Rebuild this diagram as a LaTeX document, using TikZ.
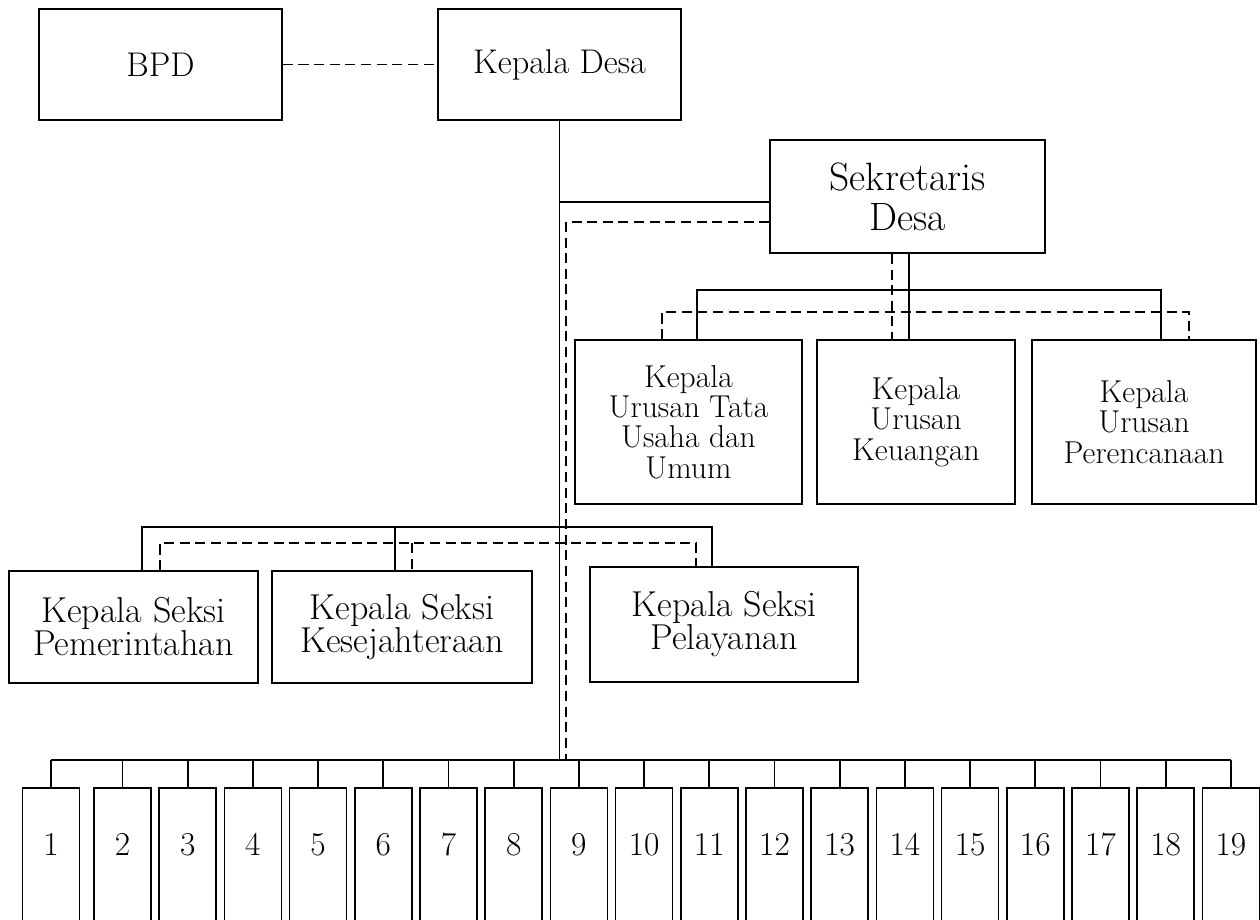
\documentclass[tikz,border=0pt]{standalone}
\usepackage{tikz}
\usetikzlibrary{calc}

\begin{document}
\begin{tikzpicture}[x=0.02cm,y=-0.02cm,line width=1pt,
        box/.style={draw,align=center,inner sep=0pt},
        topbox/.style={box,minimum width=4.86cm,minimum height=2.22cm,font=\fontsize{19.5}{22}\selectfont},
        kaurbox/.style={box,minimum height=3.28cm,font=\fontsize{18}{17.3}\selectfont},
        kasibox/.style={box,font=\fontsize{20.5}{18.8}\selectfont},
        numbox/.style={box,minimum width=1.14cm,text height=38.5pt,text depth=48pt,font=\fontsize{19}{20}\selectfont},
        dashline/.style={dash pattern=on 5.7pt off 3.2pt}]
      \useasboundingbox (0,0) rectangle (1260,919);
      \clip (0,0) rectangle (1260,919);

      % top row
      \node[topbox] (bpd) at (160.5,64.5) {BPD};
      \node[topbox] (kades) at (559.5,64.5) {Kepala Desa};
      \node[box,minimum width=5.5cm,minimum height=2.26cm,
        font=\fontsize{22.5}{22.7}\selectfont] (sekdes) at (907.5,196.5) {Sekretaris\\Desa};

      % kepala urusan
      \node[kaurbox,minimum width=4.54cm] (kaur1) at (688.5,422) {Kepala\\Urusan Tata\\Usaha dan\\Umum};
      \node[kaurbox,minimum width=3.96cm] (kaur2) at (916,422) {Kepala\\Urusan\\Keuangan};
      \node[kaurbox,minimum width=4.48cm] (kaur3) at (1144,422) {Kepala\\Urusan\\Perencanaan};

      % kepala seksi
      \node[kasibox,minimum width=4.98cm,minimum height=2.24cm] (kasi1) at (133.5,627) {Kepala Seksi\\Pemerintahan};
      \node[kasibox,minimum width=5.2cm,minimum height=2.24cm] (kasi2) at (402,627) {Kepala Seksi\\Kesejahteraan};
      \node[kasibox,minimum width=5.36cm,minimum height=2.3cm] (kasi3) at (724,624.5) {Kepala Seksi\\Pelayanan};

      % helper points on the buses
      \coordinate (nbus) at (559.5,760);
      \coordinate (dtrunk) at (566,760);
      \coordinate (sk1) at ($(sekdes.north west)!0.55!(sekdes.south west)$);
      \coordinate (sk2) at ($(sekdes.north west)!0.72!(sekdes.south west)$);
      \coordinate (ub1) at (697,290);
      \coordinate (ub2) at (909,290);
      \coordinate (ub3) at (1161,290);
      \coordinate (ud1) at (662,312);
      \coordinate (ud2) at (892,312);
      \coordinate (ud3) at (1189,312);
      \coordinate (lb1) at (142,527);
      \coordinate (lb2) at (395,527);
      \coordinate (lb3) at (712,527);
      \coordinate (ld1) at (160,543);
      \coordinate (ld2) at (412,543);
      \coordinate (ld3) at (696,543);

      % BPD -- Kepala Desa
      \draw[dashline] (bpd.east) -- (kades.west);

      % trunk and sekretaris
      \draw (kades.south) -- (nbus);
      \draw (sk1 -| kades.south) -- (sk1);
      \draw[dashline] (sk2) -| (dtrunk);

      % sekretaris -- kepala urusan
      \draw (sekdes.south -| ub2) -- (kaur2.north -| ub2);
      \draw (kaur1.north -| ub1) |- (ub3) -- (kaur3.north -| ub3);
      \draw[dashline] (sekdes.south -| ud2) -- (kaur2.north -| ud2);
      \draw[dashline] (kaur1.north -| ud1) |- (ud3) -- (kaur3.north -| ud3);

      % kepala seksi
      \draw (kasi1.north -| lb1) |- (lb3) -- (kasi3.north -| lb3);
      \draw (lb2) -- (kasi2.north -| lb2);
      \draw[dashline] (kasi1.north -| ld1) |- (ld3) -- (kasi3.north -| ld3);
      \draw[dashline] (ld2) -- (kasi2.north -| ld2);

      % numbered units
      \foreach \i in {1,...,19} {
          \pgfmathsetmacro{\bx}{\i==1 ? 51 : 122.5+65.2*(\i-2)}
          \node[numbox,anchor=north] (n\i) at (\bx,787) {\i};
          \draw (n\i.north) -- (n\i.north |- nbus);
        }
      \draw (n1.north |- nbus) -- (n19.north |- nbus);

    \end{tikzpicture}
\end{document}
